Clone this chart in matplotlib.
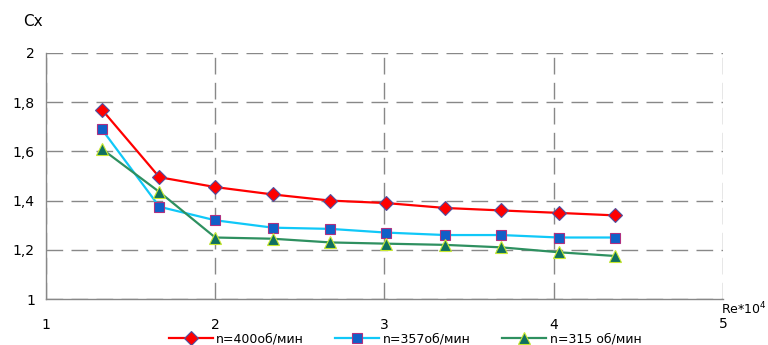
import numpy as np
import matplotlib
matplotlib.use('Agg')
from matplotlib import pyplot as plt

# Re*10^4 values and Cx for three rotation speeds
re_x = [1.33, 1.67, 2.0, 2.34, 2.68, 3.01, 3.36, 3.69, 4.03, 4.36]
cx_400 = [1.77, 1.495, 1.455, 1.425, 1.40, 1.39, 1.37, 1.36, 1.35, 1.34]
cx_357 = [1.69, 1.375, 1.32, 1.29, 1.285, 1.27, 1.26, 1.26, 1.25, 1.25]
cx_315 = [1.61, 1.435, 1.25, 1.245, 1.23, 1.225, 1.22, 1.21, 1.19, 1.175]

labels = ['n=400об/мин', 'n=357об/мин', 'n=315 об/мин']
xticks = [1, 2, 3, 4, 5]
yticks = [1, 1.2, 1.4, 1.6, 1.8, 2]

plt.rcParams['font.family'] = ['DejaVu Sans']

fig = plt.figure(figsize=(7.68, 3.45), dpi=100)
ax = fig.add_axes([0.0599, 0.1333, 0.8815, 0.7131])

ax.plot(re_x, cx_400, color='#ff0000', lw=1.6, marker='D', ms=7,
        mfc='#ff0000', mec='#5050a0', mew=0.8, label=labels[0], zorder=4)
ax.plot(re_x, cx_357, color='#10c8f8', lw=1.6, marker='s', ms=7,
        mfc='#1060c8', mec='#b03080', mew=0.8, label=labels[1], zorder=3)
ax.plot(re_x, cx_315, color='#2e9060', lw=1.6, marker='^', ms=8,
        mfc='#107060', mec='#c8e830', mew=0.8, label=labels[2], zorder=3)

ax.set_xlim(1, 5)
ax.set_ylim(1, 2)
ax.set_xticks(xticks)
ax.set_yticks(yticks)
ax.set_xticklabels(['1', '2', '3', '4', ''])
ax.set_yticklabels([('%g' % v).replace('.', ',') for v in yticks])
ax.tick_params(length=0, labelsize=10, pad=8)
ax.tick_params(axis='x', pad=13.5)

ax.grid(True, color='#888888', ls=(0, (12, 6)), lw=1.0)
ax.spines['top'].set_visible(False)
ax.spines['right'].set_visible(False)
for s in ['left', 'bottom']:
    ax.spines[s].set_color('#888888')
    ax.spines[s].set_linewidth(1.0)

fig.text(23 / 768, 1 - 22 / 345, 'Cx', fontsize=11, ha='left', va='center')
fig.text(721 / 768, 1 - 309 / 345, 'Re*10$^4$', fontsize=9, ha='left', va='center')
fig.text(723 / 768, 1 - 324 / 345, '5', fontsize=10, ha='center', va='center')

fig.legend(loc='center', bbox_to_anchor=(405 / 768, 1 - 339 / 345), ncol=3,
           frameon=False, fontsize=9, handlelength=3.5, handletextpad=0.3,
           columnspacing=2.5, borderaxespad=0)

fig.savefig('out.png', dpi=100)
